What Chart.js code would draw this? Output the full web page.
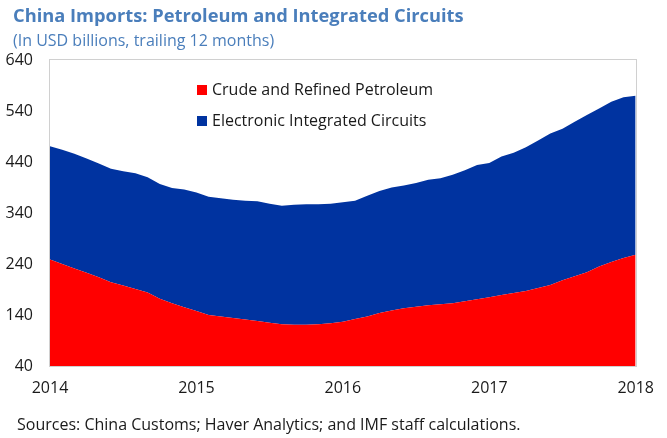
<!DOCTYPE html>
<html>
<head>
<meta charset="utf-8">
<script src="https://cdn.jsdelivr.net/npm/chart.js@4.4.1/dist/chart.umd.min.js"></script>
<style>
  html, body { margin: 0; padding: 0; background: #fff; }
  #wrap { position: relative; width: 667px; height: 438px; overflow: hidden; font-family: "Open Sans", "Noto Sans", sans-serif; }
  #c { position: absolute; left: 0; top: 0; }
  .txt { position: absolute; white-space: nowrap; }
  #title { left: 13px; top: 3px; font-size: 18.3px; line-height: 24px; font-weight: 700; color: #4a7ebb; }
  #sub { left: 13px; top: 30px; font-size: 16px; line-height: 20px; color: #4a7ebb; }
  #src { left: 17px; top: 414px; font-size: 16px; line-height: 20px; color: #1a1a1a; }
  .leg { position: absolute; left: 197px; font-size: 16px; line-height: 20px; color: #1a1a1a; white-space: nowrap; }
  .leg span.sw { display: inline-block; width: 10px; height: 10px; margin-right: 5px; vertical-align: 0px; }
</style>
</head>
<body>
<div id="wrap">
  <canvas id="c" width="667" height="438"></canvas>
  <div class="txt" id="title">China Imports: Petroleum and Integrated Circuits</div>
  <div class="txt" id="sub">(In USD billions, trailing 12 months)</div>
  <div class="leg" id="leg1" style="top:79px"></div>
  <div class="leg" id="leg2" style="top:110px"></div>
  <div class="txt" id="src">Sources: China Customs; Haver Analytics; and IMF staff calculations.</div>
</div>
<script>
// Monthly observations, Jan 2014 .. Jan 2018
const months = [
  '2014-01','2014-02','2014-03','2014-04','2014-05','2014-06','2014-07','2014-08','2014-09','2014-10','2014-11','2014-12',
  '2015-01','2015-02','2015-03','2015-04','2015-05','2015-06','2015-07','2015-08','2015-09','2015-10','2015-11','2015-12',
  '2016-01','2016-02','2016-03','2016-04','2016-05','2016-06','2016-07','2016-08','2016-09','2016-10','2016-11','2016-12',
  '2017-01','2017-02','2017-03','2017-04','2017-05','2017-06','2017-07','2017-08','2017-09','2017-10','2017-11','2017-12',
  '2018-01'
];
const yearTicks = ['2014', '2015', '2016', '2017', '2018'];
const seriesNames = ['Crude and Refined Petroleum', 'Electronic Integrated Circuits'];

// Crude and refined petroleum (USD bn, trailing 12m)
const petroleum = [
  249, 240, 231, 223, 214, 204, 198, 191, 184, 172, 163, 155,
  148, 140, 137, 134, 131, 128, 125, 122, 121, 121, 122, 124,
  127, 132, 137, 144, 149, 153, 156, 159, 161, 163, 167, 171,
  175, 179, 183, 187, 193, 199, 208, 216, 224, 235, 244, 252,
  258
];
// Top of the stack: petroleum + integrated circuits (USD bn, trailing 12m)
const stackTotal = [
  471, 464, 456, 447, 437, 427, 422, 418, 410, 397, 389, 386,
  380, 372, 369, 366, 364, 363, 358, 354, 356, 357, 357, 358,
  361, 364, 374, 383, 390, 394, 399, 405, 408, 415, 424, 434,
  438, 451, 458, 469, 482, 496, 505, 519, 532, 545, 558, 567,
  570
];

const RED = '#ff0000';
const BLUE = '#0033a0';

// HTML legend
function legItem(el, color, text) {
  const sw = document.createElement('span');
  sw.className = 'sw';
  sw.style.background = color;
  el.appendChild(sw);
  el.appendChild(document.createTextNode(text));
}
legItem(document.getElementById('leg1'), RED, seriesNames[0]);
legItem(document.getElementById('leg2'), BLUE, seriesNames[1]);

const frame = {
  id: 'frame',
  beforeDatasetsDraw(chart) {
    const a = chart.chartArea, ctx = chart.ctx;
    ctx.save();
    ctx.strokeStyle = '#d0d0d0';
    ctx.lineWidth = 1;
    ctx.strokeRect(Math.round(a.left) - 0.5, Math.round(a.top) - 0.5, Math.round(a.right - a.left) + 1, Math.round(a.bottom - a.top) + 1);
    ctx.restore();
  }
};

const tickFont = { family: '"Open Sans", "Noto Sans", sans-serif', size: 16 };

new Chart(document.getElementById('c'), {
  type: 'line',
  data: {
    labels: months,
    datasets: [
      { label: seriesNames[0], data: petroleum, backgroundColor: RED, borderColor: RED, borderWidth: 0, pointRadius: 0, fill: 'start', tension: 0 },
      { label: seriesNames[1], data: stackTotal, backgroundColor: BLUE, borderColor: BLUE, borderWidth: 0, pointRadius: 0, fill: '-1', tension: 0 }
    ]
  },
  options: {
    responsive: false,
    animation: false,
    events: [],
    layout: { padding: { top: 60, right: 29, left: 0, bottom: 0 } },
    plugins: { legend: { display: false }, tooltip: { enabled: false }, title: { display: false } },
    scales: {
      x: {
        type: 'category',
        offset: false,
        grid: { display: false, drawTicks: false },
        border: { display: false },
        afterFit(s) { s.height = 72; },
        ticks: {
          autoSkip: false, maxRotation: 0, minRotation: 0, padding: 13,
          color: '#1a1a1a', font: tickFont,
          callback(v, i) { return i % 12 === 0 ? yearTicks[i / 12] : ''; }
        }
      },
      y: {
        min: 40, max: 640,
        grid: { display: false, drawTicks: false },
        border: { display: false },
        afterFit(s) { s.width = 50; },
        ticks: {
          stepSize: 100, padding: 17,
          color: '#1a1a1a', font: tickFont
        }
      }
    }
  },
  plugins: [frame]
});
</script>
</body>
</html>
